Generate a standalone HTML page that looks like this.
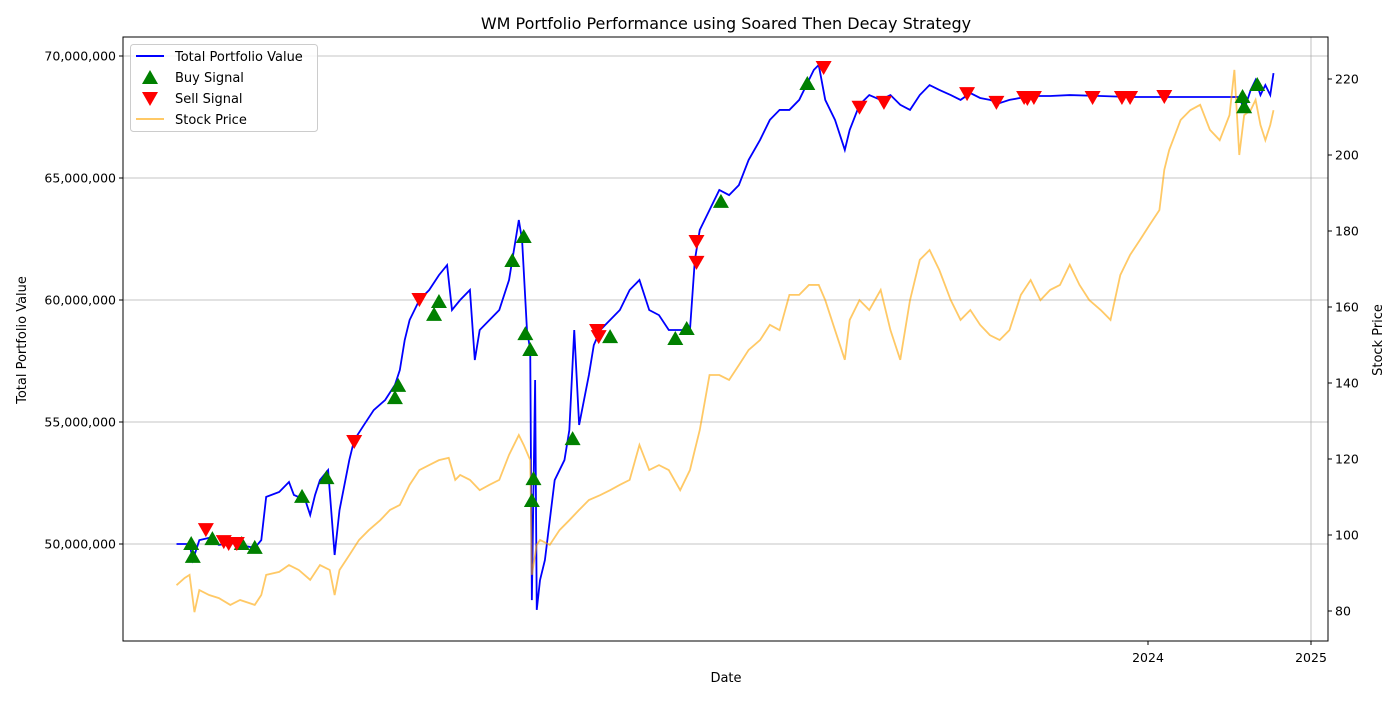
<!DOCTYPE html>
<html><head><meta charset="utf-8"><style>
body{margin:0;background:#fff;font-family:"Liberation Sans","DejaVu Sans",sans-serif}
svg text{font-family:"DejaVu Sans","Liberation Sans",sans-serif}
</style></head><body>
<svg id="chart" width="1400" height="700" xmlns="http://www.w3.org/2000/svg">
<rect width="1400" height="700" fill="#fff"/>
<text x="726" y="29" font-size="16" text-anchor="middle">WM Portfolio Performance using Soared Then Decay Strategy</text>
<text x="726" y="682" font-size="13" text-anchor="middle">Date</text>
<text transform="translate(26,340) rotate(-90)" font-size="13" text-anchor="middle">Total Portfolio Value</text>
<text transform="translate(1382,340) rotate(-90)" font-size="13" text-anchor="middle">Stock Price</text>
<g id="grid"></g><g id="series"></g><g id="axes"></g>
<g>
<rect x="130.5" y="44.5" width="187" height="87" fill="#fff" fill-opacity="0.8" stroke="#ccc" rx="3"/>
<line x1="136" y1="56" x2="164" y2="56" stroke="#0000ff" stroke-width="2"/>
<text x="175" y="61" font-size="13">Total Portfolio Value</text>
<polygon points="150,70 158,84 142,84" fill="#008000"/>
<text x="175" y="82" font-size="13">Buy Signal</text>
<polygon points="142,92 158,92 150,106" fill="#ff0000"/>
<text x="175" y="103" font-size="13">Sell Signal</text>
<line x1="136" y1="119" x2="164" y2="119" stroke="#ffa500" stroke-opacity="0.6" stroke-width="2"/>
<text x="175" y="124" font-size="13">Stock Price</text>
</g>
</svg>
<script>
const pfDates=[2018.04,2018.12,2018.14,2018.18,2018.24,2018.30,2018.37,2018.43,2018.52,2018.56,2018.59,2018.67,2018.73,2018.76,2018.83,2018.86,2018.89,2018.92,2018.97,2019.01,2019.04,2019.10,2019.13,2019.19,2019.25,2019.32,2019.38,2019.41,2019.44,2019.47,2019.53,2019.59,2019.65,2019.70,2019.73,2019.78,2019.84,2019.87,2019.90,2019.96,2020.02,2020.08,2020.11,2020.14,2020.16,2020.19,2020.21,2020.22,2020.24,2020.25,2020.27,2020.30,2020.33,2020.36,2020.39,2020.42,2020.45,2020.48,2020.51,2020.57,2020.60,2020.64,2020.70,2020.76,2020.82,2020.88,2020.94,2021.00,2021.06,2021.13,2021.19,2021.22,2021.25,2021.31,2021.37,2021.43,2021.49,2021.55,2021.62,2021.68,2021.74,2021.80,2021.86,2021.92,2021.95,2021.98,2022.02,2022.08,2022.14,2022.17,2022.23,2022.29,2022.36,2022.42,2022.48,2022.54,2022.60,2022.66,2022.72,2022.79,2022.85,2022.91,2022.97,2023.03,2023.09,2023.15,2023.28,2023.40,2023.52,2023.71,2023.89,2024.01,2024.32,2024.50,2024.56,2024.59,2024.63,2024.66,2024.69,2024.72,2024.75,2024.77];
const pfValues=[50.0,50.0,49.34,50.16,50.25,49.96,50.04,49.96,49.84,50.16,51.93,52.13,52.54,52.01,51.8,51.19,52.01,52.62,53.03,49.55,51.39,53.44,54.26,54.88,55.49,55.9,56.52,57.13,58.36,59.18,60.0,60.41,61.02,61.43,59.59,60.0,60.41,57.54,58.77,59.18,59.59,60.82,62.05,63.28,62.46,58.77,57.95,47.7,56.72,47.3,48.52,49.34,50.98,52.62,53.03,53.44,54.67,58.77,54.88,56.93,58.15,58.77,59.18,59.59,60.41,60.82,59.59,59.38,58.77,58.77,58.77,61.64,62.87,63.69,64.51,64.3,64.71,65.74,66.56,67.38,67.79,67.79,68.2,69.02,69.43,69.63,68.2,67.38,66.15,66.97,68.0,68.4,68.2,68.4,68.0,67.79,68.4,68.81,68.61,68.4,68.2,68.48,68.28,68.2,68.07,68.2,68.36,68.36,68.4,68.36,68.32,68.32,68.32,68.32,68.32,67.79,68.61,69.02,68.4,68.81,68.4,69.3];
const stDates=[2018.04,2018.09,2018.12,2018.15,2018.18,2018.24,2018.30,2018.37,2018.43,2018.52,2018.56,2018.59,2018.67,2018.73,2018.79,2018.86,2018.92,2018.98,2019.01,2019.04,2019.10,2019.16,2019.22,2019.29,2019.35,2019.41,2019.47,2019.53,2019.59,2019.65,2019.71,2019.75,2019.78,2019.84,2019.90,2019.96,2020.02,2020.08,2020.14,2020.17,2020.21,2020.22,2020.25,2020.27,2020.33,2020.39,2020.45,2020.51,2020.57,2020.64,2020.70,2020.76,2020.82,2020.88,2020.94,2021.00,2021.06,2021.13,2021.19,2021.22,2021.25,2021.31,2021.37,2021.43,2021.49,2021.55,2021.62,2021.68,2021.74,2021.80,2021.86,2021.92,2021.98,2022.02,2022.08,2022.14,2022.17,2022.23,2022.29,2022.36,2022.42,2022.48,2022.54,2022.60,2022.66,2022.72,2022.79,2022.85,2022.91,2022.97,2023.03,2023.09,2023.15,2023.22,2023.28,2023.34,2023.40,2023.46,2023.52,2023.58,2023.64,2023.71,2023.77,2023.83,2023.89,2023.95,2024.01,2024.07,2024.10,2024.13,2024.20,2024.26,2024.32,2024.38,2024.44,2024.50,2024.53,2024.56,2024.59,2024.63,2024.66,2024.69,2024.72,2024.75,2024.77];
const stValues=[86.8,88.7,89.5,79.7,85.5,84.2,83.4,81.6,82.9,81.6,84.2,89.5,90.3,92.1,90.8,88.2,92.1,90.8,84.2,90.8,94.7,98.7,101.3,103.9,106.6,107.9,113.2,117.1,118.4,119.7,120.3,114.5,115.8,114.5,111.8,113.2,114.5,121.1,126.3,123.7,119.7,89.5,97.4,98.7,97.4,101.3,103.9,106.6,109.2,110.5,111.8,113.2,114.5,123.7,117.1,118.4,117.1,111.8,117.1,122.4,127.6,142.1,142.1,140.8,144.7,148.7,151.3,155.3,153.9,163.2,163.2,165.8,165.8,161.8,153.9,146.1,156.6,161.8,159.2,164.5,153.9,146.1,161.8,172.4,175.0,169.7,161.8,156.6,159.2,155.3,152.6,151.3,153.9,163.2,167.1,161.8,164.5,165.8,171.1,165.8,161.8,159.2,156.6,168.4,173.7,177.6,181.6,185.5,196.1,201.3,209.2,211.8,213.2,206.6,203.9,210.5,222.4,200.0,210.5,211.8,214.5,207.9,203.9,207.9,211.8];
const buyDates=[2018.13,2018.14,2018.26,2018.44,2018.52,2018.81,2018.96,2019.38,2019.40,2019.62,2019.65,2020.10,2020.17,2020.18,2020.21,2020.23,2020.22,2020.47,2020.70,2021.10,2021.17,2021.38,2021.91,2024.58,2024.59,2024.67];
const buyValues=[50.0,49.47,50.2,50.0,49.84,51.93,52.7,55.98,56.48,59.39,59.92,61.6,62.58,58.6,57.95,52.66,51.76,54.3,58.48,58.4,58.81,64.02,68.85,68.32,67.9,68.81];
const sellDates=[2018.22,2018.33,2018.36,2018.41,2019.13,2019.53,2020.62,2020.63,2021.23,2021.23,2022.01,2022.23,2022.38,2022.89,2023.07,2023.24,2023.26,2023.30,2023.66,2023.84,2023.89,2024.10];
const sellValues=[50.61,50.12,50.04,50.04,54.22,60.04,58.77,58.52,62.42,61.56,69.55,67.92,68.12,68.48,68.12,68.32,68.28,68.32,68.32,68.32,68.32,68.36];
const leftTicks=[50,55,60,65,70];
const leftTickLabels=["50,000,000","55,000,000","60,000,000","65,000,000","70,000,000"];
const rightTicks=[80,100,120,140,160,180,200,220];
const xTicks=[2024,2025];
const xTickLabels=["2024","2025"];
const xGrid=[2025];

const NS="http://www.w3.org/2000/svg";
const X=t=>1148+(t-2024)*163;
const YL=v=>544-(v-50)*24.4;
const YR=p=>611-(p-80)*3.8;
function mk(tag,attrs,parent){const e=document.createElementNS(NS,tag);for(const k in attrs)e.setAttribute(k,attrs[k]);document.getElementById(parent).appendChild(e);return e;}
const L=123,R=1328,T=37,B=641;
leftTicks.forEach((v,i)=>{
  const y=YL(v);
  const g=mk('line',{x1:L,x2:R,y1:y,y2:y,stroke:'#b0b0b0','stroke-width':0.8},'grid');
  
  
  mk('line',{x1:L-4,x2:L,y1:y,y2:y,stroke:'#000'},'axes');
  const t=mk('text',{x:L-7,y:y+4.5,'font-size':12.5,'text-anchor':'end'},'axes');
  t.textContent=leftTickLabels[i];
  
  
});
xGrid.forEach(v=>{
  const x=X(v);
  const g=mk('line',{x1:x,x2:x,y1:T,y2:B,stroke:'#b0b0b0','stroke-width':0.8},'grid');
  
  
});
xTicks.forEach((v,i)=>{
  const x=X(v);
  mk('line',{x1:x,x2:x,y1:B,y2:B+4,stroke:'#000'},'axes');
  const t=mk('text',{x:x,y:B+21,'font-size':12.5,'text-anchor':'middle'},'axes');
  t.textContent=xTickLabels[i];
  
  
});
rightTicks.forEach(v=>{
  const y=YR(v);
  mk('line',{x1:R,x2:R+4,y1:y,y2:y,stroke:'#000'},'axes');
  const t=mk('text',{x:R+7,y:y+4.5,'font-size':12.5},'axes');
  t.textContent=String(v);
  
  
});
const frame=mk('rect',{x:L,y:T,width:R-L,height:B-T,fill:'none',stroke:'#000','stroke-width':1},'axes');



const pf=mk('polyline',{points:pfDates.map((t,i)=>X(t)+','+YL(pfValues[i])).join(' '),fill:'none',stroke:'#0000ff','stroke-width':1.8},'series');


const st=mk('polyline',{points:stDates.map((t,i)=>X(t)+','+YR(stValues[i])).join(' '),fill:'none',stroke:'#ffa500','stroke-opacity':0.6,'stroke-width':1.8},'series');


buyDates.forEach((t,i)=>{
  const x=X(t),y=YL(buyValues[i]);
  const p=mk('polygon',{points:`${x},${y-8} ${x+8},${y+6} ${x-8},${y+6}`,fill:'#008000'},'series');
  
  
});
sellDates.forEach((t,i)=>{
  const x=X(t),y=YL(sellValues[i]);
  const p=mk('polygon',{points:`${x-8},${y-6} ${x+8},${y-6} ${x},${y+8}`,fill:'#ff0000'},'series');
  
  
});
</script>
</body></html>
